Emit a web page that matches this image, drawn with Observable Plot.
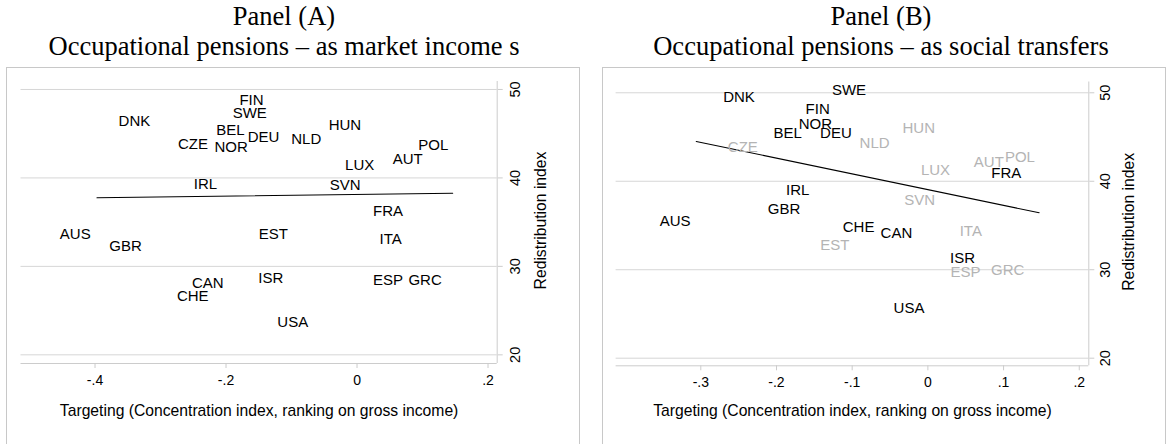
<!DOCTYPE html>
<html><head><meta charset="utf-8">
<script src="https://cdn.jsdelivr.net/npm/d3@7"></script>
<script src="https://cdn.jsdelivr.net/npm/@observablehq/plot@0.6"></script>
<style>
body{margin:0;background:#fff;overflow:hidden;}
#wrap{position:relative;width:1168px;height:444px;overflow:hidden;background:#fff;}
.title{position:absolute;font-family:"Times New Roman","Liberation Serif",serif;font-size:26.5px;line-height:30px;text-align:center;white-space:nowrap;color:#000;}
.box{position:absolute;border:1px solid #c8c8c8;box-sizing:border-box;}
.panel{position:absolute;top:0;}
</style></head><body>
<div id="wrap">
  <div class="box" style="left:6px;top:67px;width:574px;height:420px;"></div>
  <div class="box" style="left:602px;top:67px;width:564px;height:420px;"></div>
  <div class="title" style="left:0;width:568px;top:1px;">Panel (A)</div>
  <div class="title" style="left:0;width:568px;top:31px;">Occupational pensions – as market income s</div>
  <div class="title" style="left:584px;width:594px;top:1px;">Panel (B)</div>
  <div class="title" style="left:584px;width:594px;top:31px;">Occupational pensions – as social transfers</div>
  <div class="panel" id="pa" style="left:0;"></div>
  <div class="panel" id="pb" style="left:584px;"></div>
</div>
<script>
// ---- data ----
const countries = ["FIN","SWE","DNK","HUN","BEL","CZE","NOR","DEU","NLD","POL","AUT","LUX","IRL","SVN","FRA","AUS","GBR","EST","ITA","ISR","CAN","CHE","ESP","GRC","USA"];

// Panel A: occupational pensions as market income
const targetingA = [-0.135,-0.130,-0.308,0.014,-0.164,-0.220,-0.159,-0.111,-0.047,0.147,0.108,0.034,-0.206,0.013,0.078,-0.399,-0.321,-0.098,0.076,-0.105,-0.196,-0.219,0.078,0.137,-0.067];
const redistA    = [48.76,47.37,46.42,45.93,45.36,43.86,43.48,44.61,44.42,43.67,42.16,41.41,39.34,39.22,36.24,33.64,32.32,33.64,33.07,28.62,28.05,26.66,28.43,28.43,23.64];

// Panel B: occupational pensions as social transfers
const targetingB = [-0.123,-0.075,-0.222,0.016,-0.160,-0.218,-0.120,-0.094,-0.044,0.148,0.107,0.036,-0.150,0.016,0.130,-0.307,-0.162,-0.097,0.078,0.069,-0.014,-0.064,0.076,0.134,0.002];
const redistB    = [48.19,50.34,49.50,46.04,45.43,43.85,46.50,45.43,44.30,42.72,42.16,41.30,39.04,37.91,40.91,35.45,36.89,32.77,34.32,31.27,34.13,34.77,29.68,29.95,25.62];
// countries shown in grey in panel B
const greyB = ["CZE","HUN","NLD","LUX","AUT","POL","SVN","EST","ITA","ESP","GRC"];

// fitted lines (end points)
const fitAx = [-0.397, 0.146];
const fitAy = [37.75, 38.27];
const fitBx = [-0.306, 0.147];
const fitBy = [44.50, 36.44];

// ticks
const yTicks = [20, 30, 40, 50];
const yTickLabels = ["20", "30", "40", "50"];
const xTicksA = [-0.4, -0.2, 0, 0.2];
const xTickLabelsA = ["-.4", "-.2", "0", ".2"];
const xTicksB = [-0.3, -0.2, -0.1, 0, 0.1, 0.2];
const xTickLabelsB = ["-.3", "-.2", "-.1", "0", ".1", ".2"];

const xTitle = "Targeting (Concentration index, ranking on gross income)";
const yTitle = "Redistribution index";

// ---- drawing ----
const GRID = "#d6d6d6";
const AXIS = "#cccccc";
const GREY = "#b4b4b4";
const SANS = "Arial, 'Liberation Sans', sans-serif";

function panel(cfg) {
  const pts = countries.map((c, i) => ({c, x: cfg.xs[i], y: cfg.ys[i], grey: cfg.grey.includes(c)}));
  const fit = cfg.fx.map((x, i) => ({x, y: cfg.fy[i]}));
  const yt = yTicks.map((v, i) => ({v, t: yTickLabels[i]}));
  const xt = cfg.xTicks.map((v, i) => ({v, t: cfg.xLabels[i]}));
  return Plot.plot({
    width: 584, height: 444,
    marginLeft: cfg.ml, marginRight: cfg.mr, marginTop: cfg.mt, marginBottom: cfg.mb,
    x: {domain: cfg.xDom},
    y: {domain: cfg.yDom},
    style: {fontFamily: SANS, background: "transparent", overflow: "visible"},
    marks: [
      Plot.ruleY(yTicks, {stroke: GRID, strokeWidth: 1}),
      Plot.ruleX([cfg.xDom[1]], {stroke: AXIS, strokeWidth: 1}),
      Plot.ruleY([cfg.yDom[0]], {stroke: AXIS, strokeWidth: 1}),
      Plot.axisX({ticks: cfg.xTicks, tickSize: 5, stroke: AXIS, fill: "none", label: null}),
      Plot.axisY({ticks: yTicks, anchor: "right", tickSize: 5, stroke: AXIS, fill: "none", label: null}),
      Plot.text(xt, {x: "v", text: "t", frameAnchor: "bottom", textAnchor: "middle", lineAnchor: "middle", dy: cfg.xtdy, fontSize: 14, fill: "black"}),
      Plot.text(yt, {y: "v", text: "t", frameAnchor: "right", textAnchor: "middle", lineAnchor: "middle", dx: cfg.ytdx, rotate: -90, fontSize: 14.5, fill: "black"}),
      Plot.text([xTitle], {frameAnchor: "bottom", textAnchor: "middle", lineAnchor: "middle", dy: cfg.xtitdy, fontSize: 15.7, fill: "black"}),
      Plot.text([yTitle], {frameAnchor: "right", textAnchor: "middle", lineAnchor: "middle", dx: cfg.ytitdx, dy: -2, rotate: -90, fontSize: 15.7, fill: "black"}),
      Plot.line(fit, {x: "x", y: "y", stroke: "black", strokeWidth: 1.1}),
      Plot.text(pts, {x: "x", y: "y", text: "c", textAnchor: "end", lineAnchor: "middle", dx: -5, fontSize: 15, fill: d => d.grey ? GREY : "black"})
    ]
  });
}

document.getElementById("pa").appendChild(panel({
  xs: targetingA, ys: redistA, grey: [], fx: fitAx, fy: fitAy,
  xTicks: xTicksA, xLabels: xTickLabelsA,
  ml: 20.5, mr: 87.3, mt: 81, mb: 81,
  xDom: [-0.513, 0.214], yDom: [19.02, 50.90],
  xtdy: 17, ytdx: 18.6, xtitdy: 47.3, ytitdx: 43.3
}));

document.getElementById("pb").appendChild(panel({
  xs: targetingB, ys: redistB, grey: greyB, fx: fitBx, fy: fitBy,
  xTicks: xTicksB, xLabels: xTickLabelsB,
  ml: 31.6, mr: 79.7, mt: 81.5, mb: 78.7,
  xDom: [-0.4119, 0.2126], yDom: [19.14, 51.22],
  xtdy: 16.7, ytdx: 16.7, xtitdy: 45, ytitdx: 40
}));
</script>
</body></html>
